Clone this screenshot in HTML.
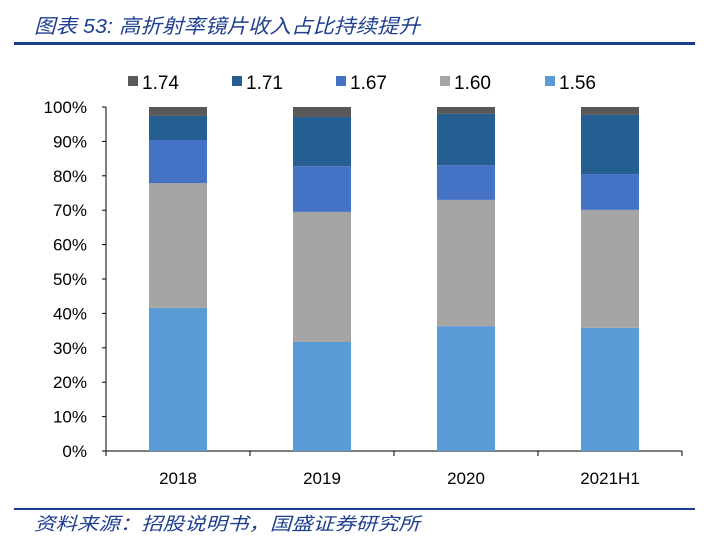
<!DOCTYPE html>
<html><head><meta charset="utf-8"><style>
body{margin:0;background:#fff;}
svg text{font-family:"Liberation Sans","Noto Sans CJK SC",sans-serif;}
</style></head><body>
<svg width="708" height="552" viewBox="0 0 708 552" xmlns="http://www.w3.org/2000/svg">
<text x="34" y="33" font-size="20" font-style="italic" fill="#1f3f8f" textLength="386" lengthAdjust="spacingAndGlyphs">图表 53:  高折射率镜片收入占比持续提升</text>
<rect x="14" y="42" width="681" height="3" fill="#1a3e8c"/>
<g id="legend"></g>
<g id="axes"></g>
<g id="bars"></g>
<rect x="14" y="508" width="681" height="2" fill="#1a3e8c"/>
<text x="34" y="530" font-size="18" font-style="italic" fill="#1f3f8f" textLength="386" lengthAdjust="spacingAndGlyphs">资料来源：招股说明书，国盛证券研究所</text>
</svg>
<script>
const categories=["2018","2019","2020","2021H1"];
const seriesNames=["1.56","1.60","1.67","1.71","1.74"];
const s156=[41.6,31.7,36.3,35.8];
const s160=[36.3,37.8,36.7,34.3];
const s167=[12.5,13.3,10.1,10.4];
const s171=[7.0,14.3,14.9,17.2];
const s174=[2.6,2.9,2.0,2.3];
const yTicks=[0,10,20,30,40,50,60,70,80,90,100];
const series=[s156,s160,s167,s171,s174];
const colors=["#5b9bd5","#a5a5a5","#4472c4","#255e91","#595959"];
const NS="http://www.w3.org/2000/svg";
const y0=451,y1=107,xL=106,xR=682;
const y=v=>y0-(v/100)*(y0-y1);
const band=(xR-xL)/categories.length;
const xc=i=>xL+band*(i+0.5);
const bw=58;
function mk(t,a,p){const e=document.createElementNS(NS,t);for(const k in a)e.setAttribute(k,a[k]);p.appendChild(e);return e;}
const axes=document.getElementById('axes');
const yl=mk('line',{x1:xL,y1:y1,x2:xL,y2:y0,stroke:'#000','stroke-width':1},axes);


const xl=mk('line',{x1:xL,y1:y0,x2:xR,y2:y0,stroke:'#000','stroke-width':1},axes);


yTicks.forEach(t=>{
 mk('line',{x1:xL-4,y1:y(t),x2:xL,y2:y(t),stroke:'#000'},axes);
 const tx=mk('text',{x:87,y:y(t)+6,'text-anchor':'end','font-size':17,fill:'#000'},axes);
 tx.textContent=t+'%';
 
 
});
categories.forEach((c,i)=>{
 mk('line',{x1:xL+band*i,y1:y0,x2:xL+band*i,y2:y0+5,stroke:'#000'},axes);
 const tx=mk('text',{x:xc(i),y:484,'text-anchor':'middle','font-size':17,fill:'#000'},axes);
 tx.textContent=c;
 
 
});
mk('line',{x1:xR,y1:y0,x2:xR,y2:y0+5,stroke:'#000'},axes);
const bars=document.getElementById('bars');
categories.forEach((c,i)=>{
 let cum=0;
 series.forEach((s,k)=>{
  const top=cum+s[i];
  const r=mk('rect',{x:xc(i)-bw/2,y:y(top),width:bw,height:y(cum)-y(top),fill:colors[k]},bars);
  
  
  cum=top;
 });
});
const lg=document.getElementById('legend');
const order=[4,3,2,1,0];
const lx=[128,232,336,440,545];
order.forEach((k,j)=>{
 const r=mk('rect',{x:lx[j],y:76,width:10,height:10,fill:colors[k]},lg);
 
 
 const t=mk('text',{x:lx[j]+14,y:89,'font-size':19,fill:'#000'},lg);
 t.textContent=seriesNames[k];
 
 
});
</script>
</body></html>
